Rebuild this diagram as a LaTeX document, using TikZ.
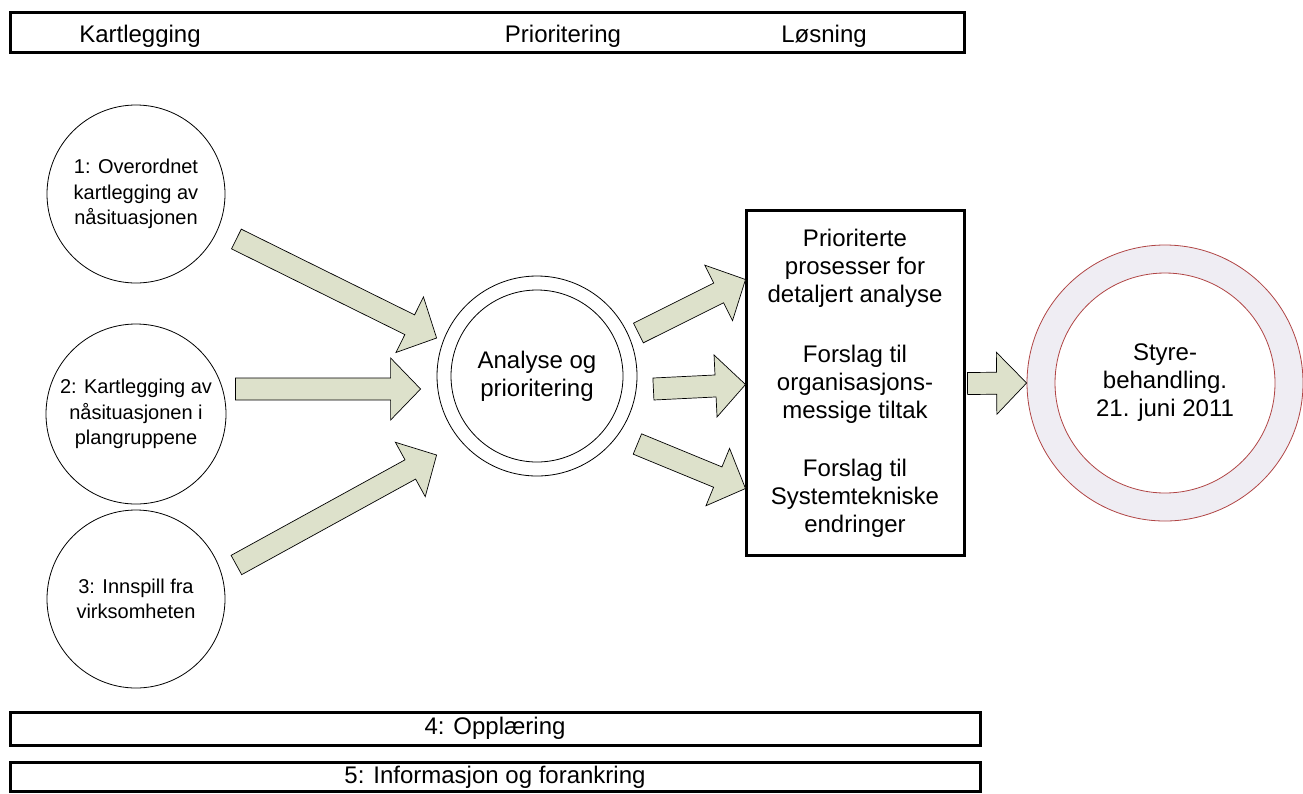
\documentclass[tikz,border=0pt]{standalone}
\usepackage{fontspec}
\setmainfont{Liberation Sans}
\usetikzlibrary{calc, positioning}

\definecolor{arrowfill}{HTML}{DDE1CB}
\definecolor{ringfill}{HTML}{EFEDF3}
\definecolor{ringline}{HTML}{B04545}

% fat block arrow from #1 (tail) to #2 (tip)
\newcommand{\blockarrow}[2]{%
  \coordinate (h) at ($(#2)!30pt!(#1)$);
  \draw[blk]
  ($(#1)!11pt!90:(#2)$) -- ($(h)!11pt!90:(#2)$) -- ($(h)!31pt!90:(#2)$) -- (#2)
  -- ($(h)!31pt!-90:(#2)$) -- ($(h)!11pt!-90:(#2)$) -- ($(#1)!11pt!-90:(#2)$) -- cycle;
}

\begin{document}
\begin{tikzpicture}[x=1pt, y=-1pt,
    bar/.style={draw, line width=3pt, inner sep=0pt},
    big/.style={font=\fontsize{24}{28}\selectfont, align=center},
    small/.style={font=\fontsize{20}{25.5}\selectfont, align=center},
    circ/.style={circle, draw, line width=0.8pt, inner sep=0pt},
    blk/.style={draw, line width=0.7pt, fill=arrowfill, line join=miter}]

    \useasboundingbox (0,0) rectangle (1303,793);

    % top bar
    \node[bar, minimum width=954, minimum height=40] (top) at (487,32) {};
    \node[big] (kart) at (140,36) {Kartlegging};
    \node[big] (prio) at (563,36) {Prioritering};
    \node[big] (los) at (824,36) {Løsning};

    % left circles
    \node[circ, small, minimum size=178] (c1) at (136,194) {1: Overordnet\\kartlegging av\\nåsituasjonen};
    \node[circ, small, minimum size=180] (c2) at (136,414) {2: Kartlegging av\\nåsituasjonen i\\plangruppene};
    \node[circ, small, minimum size=178] (c3) at (136,599) {3: Innspill fra\\virksomheten};

    % analyse
    \node[circ, big, minimum size=200] (ana) at (537,376) {Analyse og\\prioritering};
    \node[circ, minimum size=172] (anain) at (ana) {};

    % result box
    \node[bar, minimum width=218, minimum height=345] (box) at (855,382.5) {};
    \node[big] (res1) at (855,268) {Prioriterte\\prosesser for\\detaljert analyse};
    \node[big] (res2) at (855,384) {Forslag til\\organisasjons-\\messige tiltak};
    \node[big] (res3) at (855,498) {Forslag til\\Systemtekniske\\endringer};

    % board
    \node[circle, draw=ringline, fill=ringfill, line width=0.8pt, minimum size=276] (ring) at (1165,383) {};
    \node[circle, draw=ringline, fill=white, line width=0.8pt, minimum size=220, inner sep=0pt, big] (styre) at (ring) {Styre-\\behandling.\\21. juni 2011};

    % bottom bars
    \node[bar, big, minimum width=970, minimum height=33] (opp) at (495,728.5) {4: Opplæring};
    \node[bar, big, minimum width=970, minimum height=29] (info) at (495,777) {5: Informasjon og forankring};

    % arrows
    \coordinate (t1) at ($(c1.east)+(11,45)$);
    \coordinate (p1) at ($(ana.west)+(0,-38)$);
    \coordinate (t2) at ($(c2.east)+(9,-25)$);
    \coordinate (p2) at ($(ana.west)+(-16,13)$);
    \coordinate (t3) at ($(c3.east)+(11,-34)$);
    \coordinate (p3) at ($(ana.west)+(0,79)$);
    \coordinate (t4) at ($(ana.east)+(1,-43)$);
    \coordinate (p4) at ($(box.west)+(1,-103)$);
    \coordinate (t5) at ($(ana.east)+(16,13)$);
    \coordinate (p5) at ($(box.west)+(1,2)$);
    \coordinate (t6) at ($(ana.east)+(0,68)$);
    \coordinate (p6) at ($(box.west)+(1,106)$);
    \coordinate (t7) at ($(box.east)+(2,1)$);
    \coordinate (p7) at (ring.west);

    \foreach \i in {1,...,7} {
        \blockarrow{t\i}{p\i}
    }
\end{tikzpicture}
\end{document}
